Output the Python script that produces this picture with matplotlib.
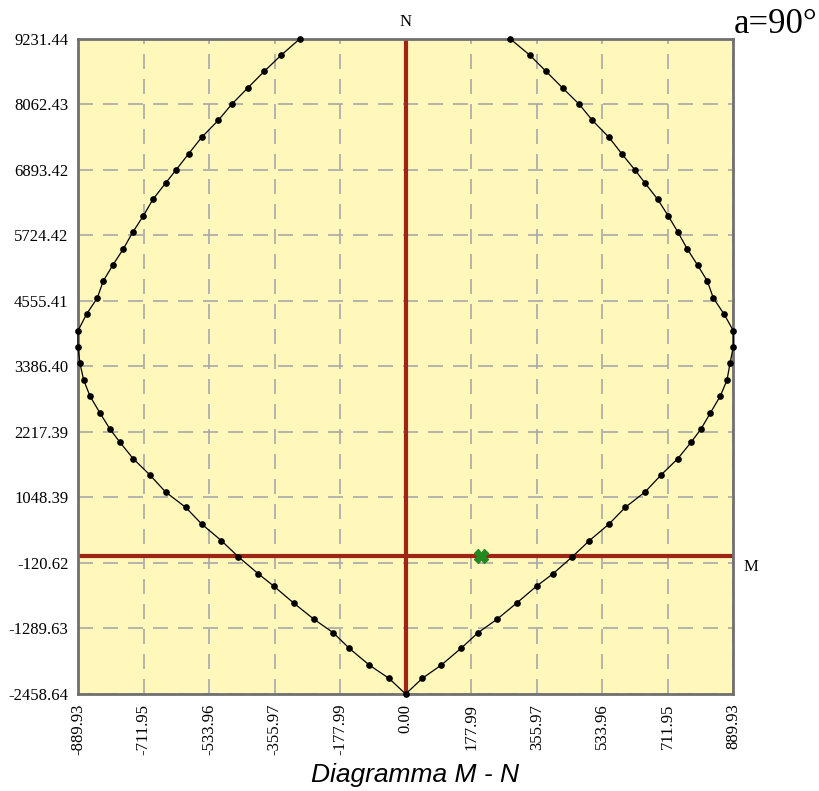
import matplotlib
matplotlib.use("Agg")
import matplotlib.pyplot as plt

# interaction domain M-N (left branch top -> bottom, then right branch bottom -> top)
m_vals = [-287.0, -338.6, -384.0, -429.1, -472.5, -508.9, -554.0, -589.3, -623.8, -651.8,
          -686.3, -712.6, -741.4, -766.9, -795.7, -821.3, -837.6, -866.4, -889.9, -889.9,
          -884.6, -874.5, -857.4, -830.2, -803.1, -775.9, -739.8, -695.2, -651.8, -597.5,
          -554.0, -500.8, -454.6, -400.3, -358.4, -304.1, -249.8, -196.6, -153.1, -98.8,
          -45.3, 0.0,
          45.2, 96.8, 150.3, 196.5, 248.9, 301.6, 355.9, 400.2, 452.6, 499.3,
          552.3, 596.5, 650.0, 694.3, 738.9, 775.0, 802.1, 827.4, 854.6, 872.8,
          880.9, 889.9, 889.9, 864.6, 835.6, 819.3, 793.2, 764.9, 739.7, 713.3,
          684.5, 650.0, 622.9, 586.8, 552.3, 506.9, 471.6, 426.5, 381.2, 337.7, 283.4]
n_vals = [9231.4, 8934.7, 8649.3, 8351.4, 8060.6, 7775.2, 7471.9, 7179.4, 6888.6, 6656.7,
          6366.0, 6068.0, 5777.2, 5479.3, 5188.5, 4908.5, 4605.2, 4319.8, 4021.9, 3731.1,
          3440.3, 3142.4, 2857.0, 2553.7, 2268.3, 2031.0, 1738.5, 1453.0, 1144.4, 871.5,
          573.6, 279.2, -9.7, -313.0, -532.4, -835.7, -1121.1, -1365.5, -1643.8, -1941.7,
          -2179.0, -2458.64,
          -2179.0, -1941.7, -1643.8, -1365.5, -1121.1, -835.7, -532.4, -313.0, -9.7, 279.2,
          573.6, 871.5, 1144.4, 1453.0, 1738.5, 2031.0, 2268.3, 2553.7, 2857.0, 3142.4,
          3440.3, 3731.1, 4021.9, 4319.8, 4605.2, 4908.5, 5188.5, 5479.3, 5777.2, 6068.0,
          6366.0, 6656.7, 6888.6, 7179.4, 7471.9, 7775.2, 8060.6, 8351.4, 8649.3, 8934.7, 9231.4]

# design load point
load_m = [205.0]
load_n = [0.0]

x_ticks = [-889.93, -711.95, -533.96, -355.97, -177.99, 0.00, 177.99, 355.97, 533.96, 711.95, 889.93]
y_ticks = [-2458.64, -1289.63, -120.62, 1048.39, 2217.39, 3386.40, 4555.41, 5724.42, 6893.42, 8062.43, 9231.44]

serif = "Liberation Serif"
red = "#9E2416"

fig = plt.figure(figsize=(8.2, 7.91), dpi=100)
ax = fig.add_axes([0.0951, 0.1226, 0.7992, 0.8285])
ax.set_facecolor("#FFF8BA")

ax.set_xlim(x_ticks[0], x_ticks[-1])
ax.set_ylim(y_ticks[0], y_ticks[-1])
ax.set_xticks(x_ticks)
ax.set_yticks(y_ticks)
ax.set_xticklabels(["%.2f" % v for v in x_ticks], rotation=90, fontfamily=serif, fontsize=12)
ax.set_yticklabels(["%.2f" % v for v in y_ticks], fontfamily=serif, fontsize=12)
ax.tick_params(length=0, pad=7)

ax.grid(True, color="#A8A8A8", linestyle=(0, (9, 6)), linewidth=1.2)
ax.set_axisbelow(True)
for s in ax.spines.values():
    s.set_color("#707070")
    s.set_linewidth(2)

# axes of the M-N plane
ax.axhline(0, color=red, linewidth=3, zorder=2)
ax.axvline(0, color=red, linewidth=3, zorder=2)

ax.plot(m_vals, n_vals, color="black", linewidth=0.9, marker="o", markersize=3.8,
        zorder=3, clip_on=False)
ax.plot(load_m, load_n, linestyle="none", marker="X", markersize=10, color="#1F8A1F",
        zorder=4)

fig.text(405.7 / 820, 1 - 22 / 791, "N", fontfamily=serif, fontsize=12, ha="center", va="center")
fig.text(744 / 820, 1 - 567 / 791, "M", fontfamily=serif, fontsize=12, ha="left", va="center")
fig.text(818 / 820, 1 - 33 / 791, "a=90°", fontfamily=serif, fontsize=25, ha="right", va="baseline")
fig.text(415 / 820, 1 - 775 / 791, "Diagramma M - N", fontfamily="Liberation Sans",
         style="italic", fontsize=19, ha="center", va="center")

fig.savefig("out.png", dpi=100)
